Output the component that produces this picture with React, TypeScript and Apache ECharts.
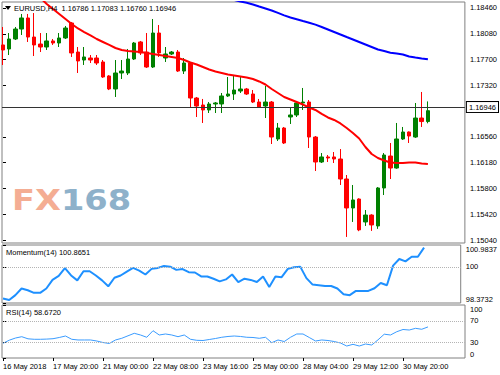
import React, { useEffect, useRef } from "react";
import * as echarts from "echarts";

const symbolName = "EURUSD,H4";
const lastOHLC = ["1.16786", "1.17083", "1.16760", "1.16946"];
const currentPrice = 1.16946;
const momentumLabel = "Momentum(14) 100.8651";
const rsiLabel = "RSI(14) 58.6720";

const tickIndices = [0, 8, 16, 24, 32, 40, 48, 56, 64];
const tickLabels = [
  "16 May 2018", "17 May 20:00", "21 May 00:00", "22 May 08:00", "23 May 16:00",
  "25 May 00:00", "28 May 04:00", "29 May 12:00", "30 May 20:00",
];
const priceTicks = [1.1504, 1.1542, 1.158, 1.1618, 1.1656, 1.1732, 1.177, 1.1808, 1.1846];
const momentumTicks = [98.3732, 100, 100.9837];
const rsiTicks = [0, 30, 70, 100];

// [open, close, low, high]
const candles = [
  [1.17915, 1.17841, 1.1762, 1.1818],
  [1.17856, 1.18003, 1.17767, 1.18091],
  [1.18003, 1.1815, 1.17988, 1.1818],
  [1.1815, 1.18313, 1.18062, 1.18372],
  [1.18313, 1.18032, 1.17959, 1.18372],
  [1.18032, 1.17915, 1.17752, 1.18386],
  [1.17929, 1.17885, 1.17811, 1.18091],
  [1.17885, 1.17974, 1.17841, 1.18091],
  [1.17974, 1.17944, 1.17915, 1.18003],
  [1.17944, 1.18018, 1.17885, 1.18091],
  [1.18018, 1.18165, 1.18003, 1.18195],
  [1.18239, 1.17797, 1.17738, 1.18254],
  [1.17811, 1.17679, 1.17502, 1.17885],
  [1.17693, 1.17738, 1.1762, 1.17885],
  [1.17723, 1.17693, 1.17649, 1.17767],
  [1.17723, 1.17649, 1.1762, 1.17767],
  [1.17664, 1.17443, 1.1743, 1.17693],
  [1.17458, 1.17266, 1.1725, 1.1747],
  [1.17266, 1.17502, 1.17148, 1.17693],
  [1.17502, 1.17531, 1.17413, 1.17693],
  [1.17502, 1.17708, 1.17472, 1.17856],
  [1.17708, 1.17944, 1.17693, 1.17959],
  [1.17959, 1.17797, 1.17767, 1.17974],
  [1.17811, 1.1759, 1.17576, 1.18091],
  [1.1759, 1.18091, 1.17576, 1.18298],
  [1.18091, 1.17797, 1.17738, 1.18209],
  [1.17723, 1.17782, 1.17664, 1.17885],
  [1.17782, 1.17811, 1.17767, 1.17826],
  [1.17811, 1.17531, 1.17517, 1.17841],
  [1.17531, 1.17649, 1.17487, 1.17723],
  [1.17649, 1.17133, 1.16986, 1.17664],
  [1.17133, 1.17015, 1.16853, 1.17148],
  [1.1703, 1.16957, 1.16765, 1.17119],
  [1.16957, 1.17045, 1.16912, 1.17074],
  [1.17045, 1.1706, 1.16912, 1.17074],
  [1.17045, 1.17163, 1.16912, 1.17207],
  [1.17163, 1.17192, 1.17148, 1.17443],
  [1.17192, 1.17251, 1.17104, 1.17458],
  [1.17236, 1.17266, 1.17207, 1.17458],
  [1.17266, 1.17192, 1.17178, 1.17281],
  [1.17192, 1.17074, 1.1706, 1.17251],
  [1.17074, 1.17001, 1.16986, 1.17119],
  [1.17015, 1.17074, 1.16838, 1.1731],
  [1.17074, 1.16558, 1.16455, 1.17089],
  [1.16529, 1.16691, 1.16499, 1.16765],
  [1.16691, 1.1647, 1.16455, 1.16706],
  [1.16853, 1.16883, 1.1675, 1.16986],
  [1.16883, 1.1706, 1.16853, 1.17089],
  [1.1706, 1.17074, 1.16957, 1.17281],
  [1.17074, 1.16558, 1.16396, 1.17104],
  [1.16558, 1.1619, 1.16057, 1.16573],
  [1.1619, 1.16264, 1.16175, 1.16322],
  [1.16264, 1.16249, 1.1619, 1.16293],
  [1.16264, 1.16234, 1.16175, 1.16337],
  [1.16234, 1.15939, 1.15851, 1.16381],
  [1.15939, 1.15512, 1.15085, 1.15998],
  [1.15512, 1.1563, 1.15306, 1.15851],
  [1.15644, 1.15189, 1.1517, 1.15655],
  [1.15306, 1.15408, 1.15247, 1.15482],
  [1.15408, 1.15262, 1.15174, 1.1542],
  [1.15247, 1.15807, 1.15204, 1.15821],
  [1.15807, 1.16293, 1.15703, 1.16322],
  [1.16278, 1.16101, 1.15939, 1.1647],
  [1.16101, 1.16529, 1.1609, 1.16765],
  [1.16529, 1.16632, 1.16515, 1.16706],
  [1.16632, 1.16573, 1.1647, 1.1664],
  [1.16558, 1.16838, 1.16545, 1.1706],
  [1.16838, 1.16786, 1.16706, 1.17222],
  [1.16786, 1.16946, 1.1676, 1.17083],
];

const maRed = [
  null, null, null, null, 1.18814, 1.18711, 1.18607, 1.18519, 1.18445, 1.18372,
  1.18298, 1.18224, 1.18158, 1.18106, 1.18055, 1.18003, 1.17959, 1.17915, 1.1787, 1.17841,
  1.17826, 1.17819, 1.17811, 1.17797, 1.17782, 1.17767, 1.17752, 1.17738, 1.17723, 1.17693,
  1.17657, 1.17627, 1.1759, 1.17553, 1.17524, 1.17502, 1.1748, 1.17465, 1.1745, 1.17435,
  1.17413, 1.17377, 1.17332, 1.17266, 1.17207, 1.17148, 1.17111, 1.17074, 1.17037, 1.16993,
  1.16957, 1.16898, 1.16846, 1.16809, 1.16758, 1.16691, 1.16617, 1.16536, 1.16411, 1.16308,
  1.16249, 1.16212, 1.16182, 1.16175, 1.16175, 1.16182, 1.16182, 1.16168, 1.1616,
];

const maBlue = [
  null, null, null, null, null, null, null, null, null, null,
  null, null, null, null, null, null, null, null, null, null,
  null, null, null, null, null, null, null, null, null, null,
  null, null, null, null, null, null, 1.186, 1.18578, 1.18556, 1.18537,
  1.18512, 1.18482, 1.18453, 1.18423, 1.18389, 1.18352, 1.1832, 1.18295, 1.18268, 1.18242,
  1.18215, 1.1818, 1.18143, 1.18106, 1.18069, 1.18032, 1.17996, 1.17959, 1.17922, 1.17885,
  1.17848, 1.17826, 1.17801, 1.17789, 1.17775, 1.17745, 1.1773, 1.17716, 1.17704,
];

const momentum = [
  98.572, 98.506, 98.727, 99.024, 98.948, 98.829, 98.829, 99.024, 99.413, 99.59,
  99.944, 99.612, 99.391, 99.802, 99.802, 99.612, 99.391, 99.125, 99.51, 99.612,
  99.789, 99.953, 99.833, 99.656, 99.909, 99.953, 100.041, 100.01, 99.864, 99.9,
  99.758, 99.745, 99.568, 99.568, 99.466, 99.347, 99.435, 99.656, 99.316, 99.466,
  99.413, 99.316, 99.568, 99.095, 99.568, 99.537, 99.909, 99.979, 100.01, 99.493,
  99.201, 99.17, 99.139, 99.139, 99.024, 98.771, 98.727, 98.917, 98.917, 98.917,
  99.037, 99.271, 99.17, 100.054, 100.351, 100.245, 100.453, 100.453, 100.8651,
];

const rsi = [
  27.7, 33.6, 37.7, 40.2, 36.2, 35.3, 35.3, 35.7, 36.4, 38.7,
  41.5, 35.3, 34.0, 34.0, 34.0, 32.1, 29.2, 27.4, 34.0, 37.2,
  41.9, 46.6, 43.4, 39.1, 51.5, 43.4, 45.3, 43.4, 40.2, 43.4,
  35.3, 33.4, 33.0, 34.9, 36.8, 39.1, 40.6, 41.5, 40.6, 39.1,
  38.7, 37.2, 39.1, 28.9, 34.0, 31.1, 39.1, 45.3, 45.3, 38.7,
  32.1, 34.0, 33.0, 31.1, 28.3, 22.6, 25.8, 22.6, 26.4, 24.5,
  34.3, 44.9, 43.4, 49.6, 53.8, 52.8, 56.0, 54.2, 58.672,
];

const FONT = "'Liberation Sans', Arial, sans-serif";
const FS = 7.5;

function toXY(arr: (number | null)[]) {
  const out: number[][] = [];
  arr.forEach((v, i) => {
    if (v != null) out.push([i, v]);
  });
  return out;
}

export default function App() {
  const ref = useRef<HTMLDivElement>(null);
  useEffect(() => {
    if (!ref.current) return;
    const chart = echarts.init(ref.current, undefined, { renderer: "svg" });
    const gridBase = {
      left: 2,
      right: 35,
      show: true,
      borderColor: "#808080",
      borderWidth: 1,
      backgroundColor: "#fff",
    };
    const xMin = -0.16;
    const xMax = 73.92;
    const xAxes = [0, 1, 2].map((g) => ({
      type: "value",
      gridIndex: g,
      min: xMin,
      max: xMax,
      splitLine: { show: false },
      axisLine: { show: false },
      axisTick: {
        show: g === 2,
        customValues: tickIndices,
        length: 3,
        lineStyle: { color: "#000" },
      },
      axisLabel: {
        show: g === 2,
        customValues: tickIndices,
        formatter: (v: number) => {
          const k = tickIndices.indexOf(Math.round(v));
          return k >= 0 ? tickLabels[k] : "";
        },
        align: "left",
        margin: 4,
        fontSize: FS,
        fontFamily: FONT,
        color: "#000",
      },
    }));
    const yLabelBase = { fontSize: FS, fontFamily: FONT, color: "#000", margin: 5 };
    const option: any = {
      animation: false,
      backgroundColor: "#fff",
      grid: [
        { ...gridBase, top: 2, height: 241 },
        { ...gridBase, top: 245, height: 58 },
        { ...gridBase, top: 305, height: 53 },
      ],
      xAxis: xAxes,
      yAxis: [
        {
          type: "value",
          gridIndex: 0,
          position: "right",
          min: 1.149958,
          max: 1.185484,
          splitLine: { show: false },
          axisLine: { show: false },
          axisTick: { show: true, customValues: priceTicks, length: 3, lineStyle: { color: "#000" } },
          axisLabel: { ...yLabelBase, customValues: priceTicks, formatter: (v: number) => v.toFixed(5) },
        },
        {
          type: "value",
          gridIndex: 1,
          position: "right",
          min: 98.3732,
          max: 100.9837,
          splitLine: { show: false },
          axisLine: { show: false },
          axisTick: { show: true, customValues: momentumTicks, length: 3, lineStyle: { color: "#000" } },
          axisLabel: {
            ...yLabelBase,
            customValues: momentumTicks,
            formatter: (v: number) => (v === 100 ? "100" : v.toFixed(4)),
            verticalAlignMinLabel: "bottom",
            verticalAlignMaxLabel: "top",
          },
        },
        {
          type: "value",
          gridIndex: 2,
          position: "right",
          min: 0,
          max: 100,
          splitLine: { show: false },
          axisLine: { show: false },
          axisTick: { show: true, customValues: rsiTicks, length: 3, lineStyle: { color: "#000" } },
          axisLabel: {
            ...yLabelBase,
            customValues: rsiTicks,
            formatter: (v: number) => String(v),
            verticalAlignMinLabel: "bottom",
            verticalAlignMaxLabel: "top",
          },
        },
      ],
      graphic: [
        {
          type: "text",
          x: 12,
          y: 200,
          scaleX: 1.16,
          z: 0,
          style: {
            text: "{a|FX}{b|168}",
            verticalAlign: "middle",
            rich: {
              a: { fill: "#f4ad93", fontSize: 29, fontWeight: "bold", fontFamily: "'DejaVu Sans', sans-serif" },
              b: { fill: "#8eb1ca", fontSize: 29, fontWeight: "bold", fontFamily: "'DejaVu Sans', sans-serif" },
            },
          },
        },
        {
          type: "polygon",
          shape: { points: [[5, 6], [11, 6], [8, 10]] },
          style: { fill: "#000" },
          z: 10,
        },
        {
          type: "text",
          x: 14,
          y: 8,
          z: 10,
          style: {
            text: symbolName + "  " + lastOHLC.join(" "),
            fill: "#000",
            fontSize: FS,
            fontFamily: FONT,
            verticalAlign: "middle",
          },
        },
        {
          type: "text",
          x: 6,
          y: 252,
          z: 10,
          style: { text: momentumLabel, fill: "#000", fontSize: FS, fontFamily: FONT, verticalAlign: "middle" },
        },
        {
          type: "text",
          x: 6,
          y: 312,
          z: 10,
          style: { text: rsiLabel, fill: "#000", fontSize: FS, fontFamily: FONT, verticalAlign: "middle" },
        },
      ],
      series: [
        {
          type: "candlestick",
          xAxisIndex: 0,
          yAxisIndex: 0,
          barWidth: 4,
          data: candles.map((c, i) => [i, c[0], c[1], c[2], c[3]]),
          itemStyle: {
            color: "#008000",
            color0: "#ff0000",
            borderColor: "#008000",
            borderColor0: "#ff0000",
            borderWidth: 1,
          },
          markLine: {
            silent: true,
            symbol: ["none", "none"],
            data: [{ yAxis: currentPrice }],
            lineStyle: { color: "#333", width: 1, type: "solid" },
            label: {
              position: "end",
              formatter: currentPrice.toFixed(5),
              color: "#000",
              fontSize: FS,
              fontFamily: FONT,
              backgroundColor: "#fff",
              borderColor: "#000",
              borderWidth: 1,
              padding: [1, 2, 1, 2],
              distance: 2,
            },
          },
        },
        {
          type: "line",
          xAxisIndex: 0,
          yAxisIndex: 0,
          data: toXY(maRed),
          symbol: "none",
          clip: true,
          lineStyle: { color: "#ff0000", width: 2 },
        },
        {
          type: "line",
          xAxisIndex: 0,
          yAxisIndex: 0,
          data: toXY(maBlue),
          symbol: "none",
          clip: true,
          lineStyle: { color: "#0000ff", width: 2 },
        },
        {
          type: "line",
          xAxisIndex: 1,
          yAxisIndex: 1,
          data: toXY(momentum),
          symbol: "none",
          lineStyle: { color: "#1e90ff", width: 2 },
          markLine: {
            silent: true,
            symbol: ["none", "none"],
            data: [{ yAxis: 100 }],
            label: { show: false },
            lineStyle: { color: "#b4b4b4", width: 1, type: "dotted" },
          },
        },
        {
          type: "line",
          xAxisIndex: 2,
          yAxisIndex: 2,
          data: toXY(rsi),
          symbol: "none",
          lineStyle: { color: "#3a9cff", width: 1 },
          markLine: {
            silent: true,
            symbol: ["none", "none"],
            data: [{ yAxis: 30 }, { yAxis: 70 }],
            label: { show: false },
            lineStyle: { color: "#b4b4b4", width: 1, type: "dotted" },
          },
        },
      ],
    };
    chart.setOption(option);
    return () => chart.dispose();
  }, []);
  return (
    <div
      ref={ref}
      style={{ position: "fixed", left: 0, top: 0, width: 500, height: 375, background: "#fff" }}
    />
  );
}
